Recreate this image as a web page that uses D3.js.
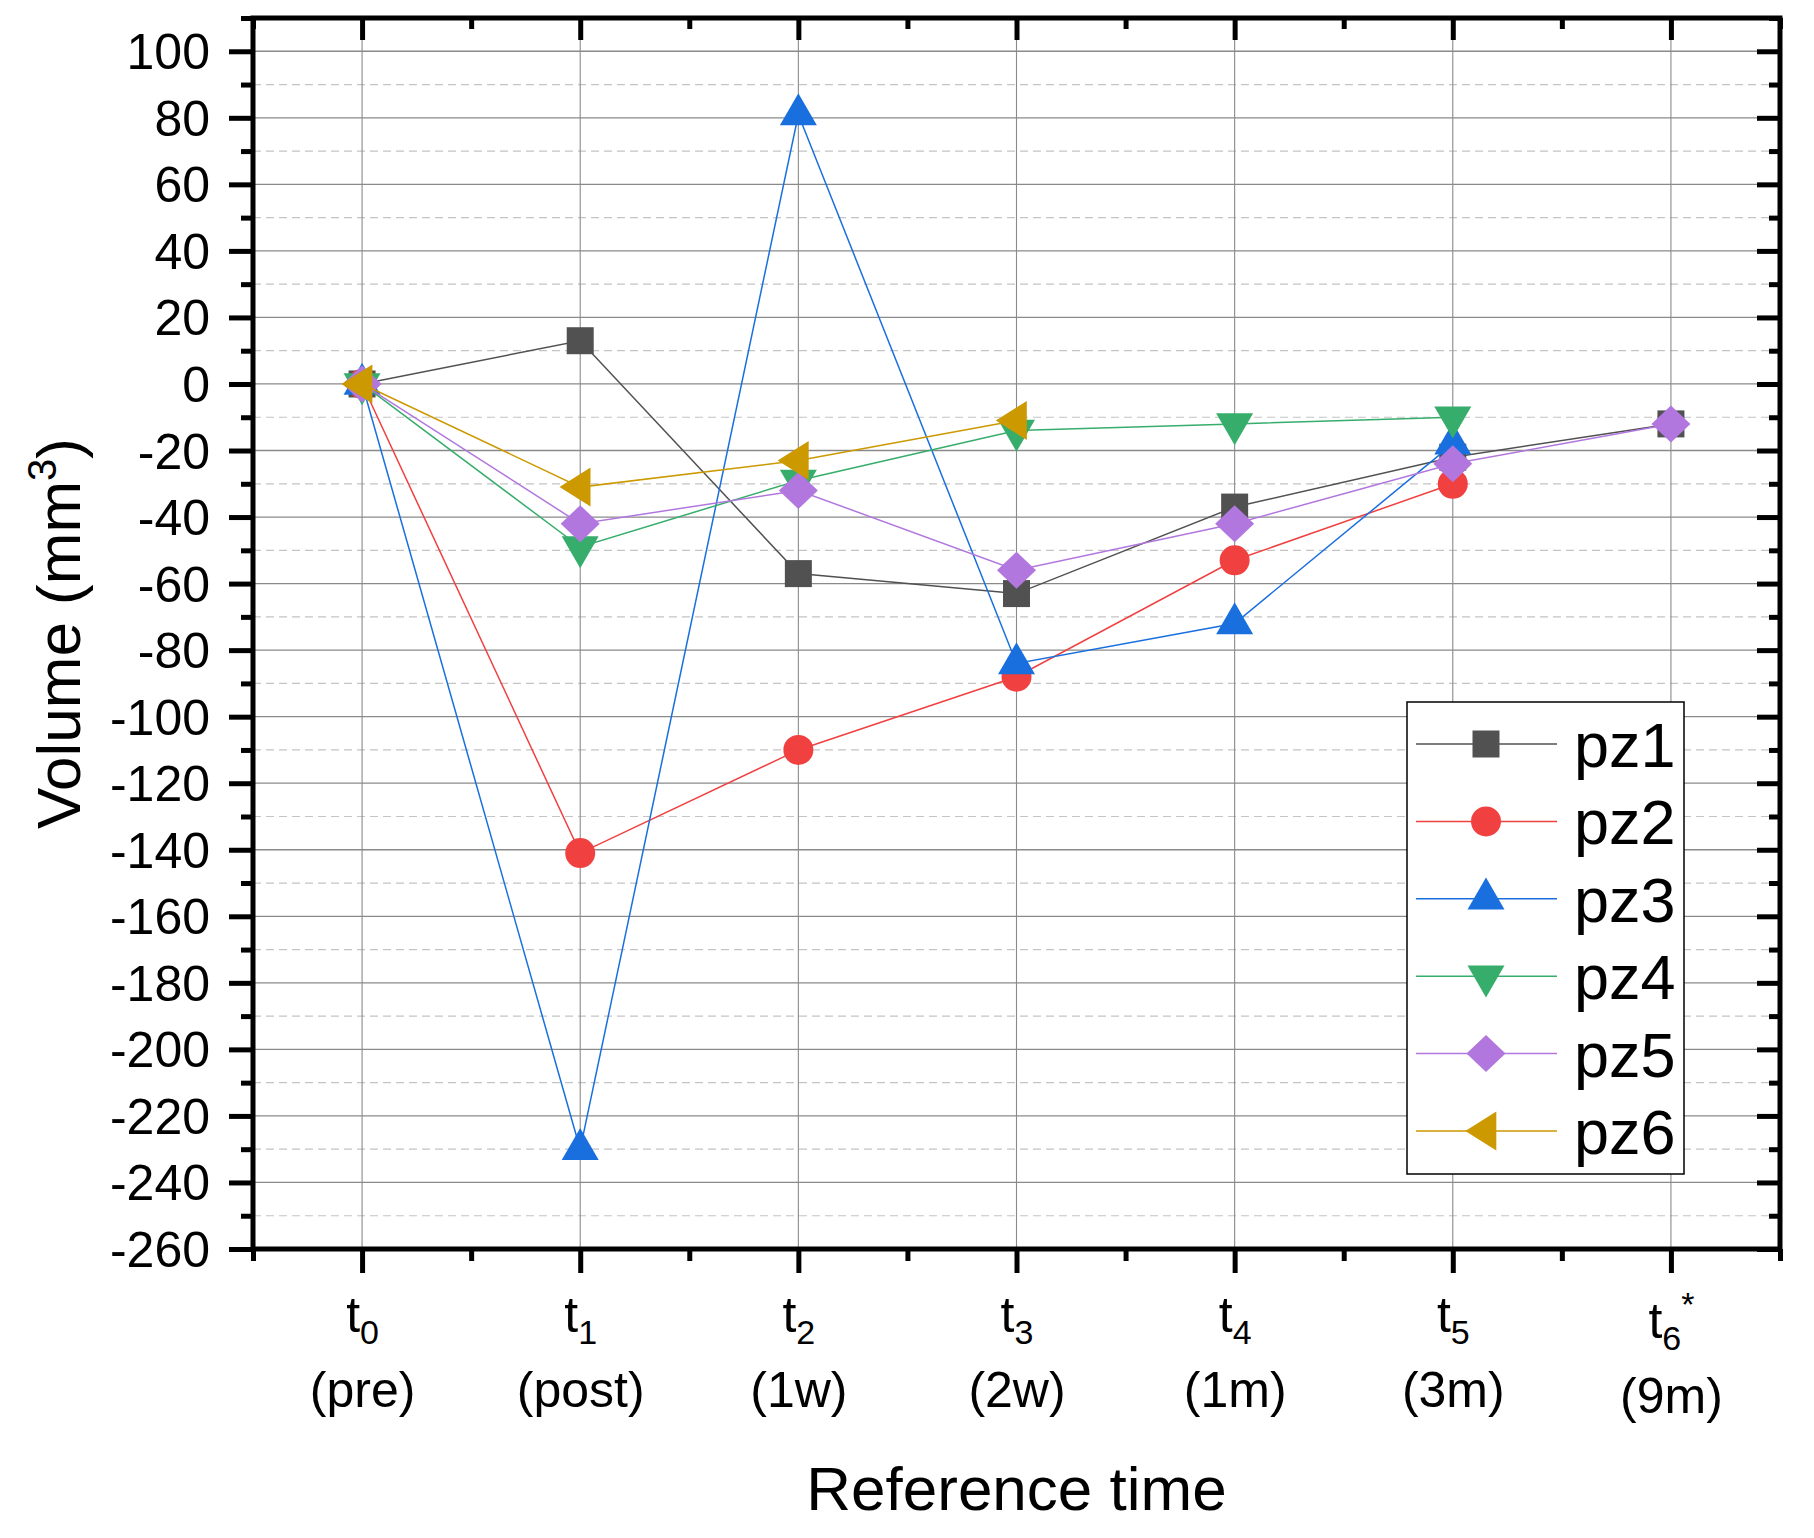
<!DOCTYPE html>
<html><head><meta charset="utf-8">
<script src="https://cdn.jsdelivr.net/npm/d3@7"></script>
<style>
body{margin:0;background:#fff}
text{font-family:"Liberation Sans",Arial,Helvetica,sans-serif;fill:#000}
</style>
</head><body><svg id="c" width="1814" height="1538"></svg>
<script>
// ---- data ----
const categories = [0, 1, 2, 3, 4, 5, 6];
const tickSub = ["0", "1", "2", "3", "4", "5", "6"];
const tickSup = ["", "", "", "", "", "", "*"];
const tickPeriod = ["(pre)", "(post)", "(1w)", "(2w)", "(1m)", "(3m)", "(9m)"];
const seriesNames = ["pz1", "pz2", "pz3", "pz4", "pz5", "pz6"];
const pz1 = [0, 13, -57, -63, -37, -22, -12];
const pz2 = [0, -141, -110, -88, -53, -30, null];
const pz3 = [0, -230, 81, -84, -72, -18, null];
const pz4 = [0, -49, -29, -14, -12, -10, null];
const pz5 = [0, -42, -32, -56, -42, -24, -12];
const pz6 = [0, -31, -23, -11, null, null, null];
const yMajorTicks = d3.range(-260, 101, 20);
const yMinorTicks = d3.range(-250, 111, 20);
const colors = ["#515151", "#F14040", "#1A6FDF", "#37AD6B", "#B177DE", "#CC9900"];
const shapes = ["square", "circle", "triUp", "triDown", "diamond", "triLeft"];
const seriesValues = [pz1, pz2, pz3, pz4, pz5, pz6];

// ---- layout ----
const L = 253, R = 1780, T = 18, B = 1249;
const svg = d3.select("#c");
svg.append("rect").attr("width", 1814).attr("height", 1538).attr("fill", "#fff");

const x = d3.scaleLinear().domain([-0.5, 6.5]).range([L, R]);
const y = d3.scaleLinear().domain([-260, 110]).range([B, T]);

function markerPath(s) {
  switch (s) {
    case "square": return "M-13.5,-13.5h27v27h-27Z";
    case "circle": return "M15,0A15,15 0 1,1 -15,0A15,15 0 1,1 15,0Z";
    case "triUp": return "M0,-21.3L18.5,10.7L-18.5,10.7Z";
    case "triDown": return "M0,21.3L18.5,-10.7L-18.5,-10.7Z";
    case "diamond": return "M0,-18.5L19.5,0L0,18.5L-19.5,0Z";
    case "triLeft": return "M-20.7,0L10.3,-19.5L10.3,19.5Z";
  }
}

// ---- grid ----
const grid = svg.append("g");
grid.selectAll(".ymin").data(yMinorTicks.filter(v => v < 110)).enter().append("line")
  .attr("x1", L).attr("x2", R).attr("y1", d => y(d)).attr("y2", d => y(d))
  .attr("stroke", "#c4c4c4").attr("stroke-width", 1.2).attr("stroke-dasharray", "8,5");
grid.selectAll(".ymaj").data(yMajorTicks.filter(v => v > -260)).enter().append("line")
  .attr("x1", L).attr("x2", R).attr("y1", d => y(d)).attr("y2", d => y(d))
  .attr("stroke", "#8a8a8a").attr("stroke-width", 1.3);
grid.selectAll(".xg").data(categories).enter().append("line")
  .attr("x1", d => x(d)).attr("x2", d => x(d)).attr("y1", T).attr("y2", B)
  .attr("stroke", "#8a8a8a").attr("stroke-width", 1.1);

// ---- series ----
const line = d3.line().defined(d => d.v !== null).x(d => x(d.c)).y(d => y(d.v));
seriesValues.forEach((vals, i) => {
  const pts = categories.map((c, k) => ({c: c, v: vals[k]}));
  const g = svg.append("g");
  g.append("path").datum(pts).attr("d", line).attr("fill", "none")
    .attr("stroke", colors[i]).attr("stroke-width", 1.5);
  g.selectAll("path.m").data(pts.filter(d => d.v !== null)).enter().append("path")
    .attr("class", "m")
    .attr("transform", d => `translate(${x(d.c)},${y(d.v)})`)
    .attr("d", markerPath(shapes[i])).attr("fill", colors[i]);
});

// ---- axes ----
function styleAxis(g) {
  g.select(".domain").remove();
  g.selectAll(".tick line").attr("stroke", "#000").attr("stroke-width", 5);
}
// left
const leftMaj = svg.append("g").attr("transform", `translate(${L},0)`)
  .call(d3.axisLeft(y).tickValues(yMajorTicks).tickSize(24).tickPadding(19).tickFormat(d => d));
styleAxis(leftMaj);
leftMaj.selectAll("text").attr("font-size", 50).attr("font-family", null).attr("dy", "0.35em");
leftMaj.attr("font-family", null).attr("font-size", null);
svg.append("g").attr("transform", `translate(${L},0)`)
  .call(d3.axisLeft(y).tickValues(yMinorTicks).tickSize(12).tickFormat("")).call(styleAxis);
// right (inward)
svg.append("g").attr("transform", `translate(${R},0)`)
  .call(d3.axisLeft(y).tickValues(yMajorTicks).tickSize(23).tickFormat("")).call(styleAxis);
svg.append("g").attr("transform", `translate(${R},0)`)
  .call(d3.axisLeft(y).tickValues(yMinorTicks).tickSize(11).tickFormat("")).call(styleAxis);
// top (inward)
const xMinor = d3.range(-0.5, 6.6, 1);
svg.append("g").attr("transform", `translate(0,${T})`)
  .call(d3.axisBottom(x).tickValues(categories).tickSize(22).tickFormat("")).call(styleAxis);
svg.append("g").attr("transform", `translate(0,${T})`)
  .call(d3.axisBottom(x).tickValues(xMinor).tickSize(11).tickFormat("")).call(styleAxis);
// bottom (outward)
const bot = svg.append("g").attr("transform", `translate(0,${B})`)
  .call(d3.axisBottom(x).tickValues(categories).tickSize(24).tickFormat(""));
styleAxis(bot);
svg.append("g").attr("transform", `translate(0,${B})`)
  .call(d3.axisBottom(x).tickValues(xMinor).tickSize(12).tickFormat("")).call(styleAxis);

// bottom tick labels: t with subscript, optional superscript, period on 2nd line
bot.selectAll(".tick").each(function(d, i) {
  const g = d3.select(this);
  const shift = tickSup[i] ? 6 : 0;
  const t = g.append("text").attr("text-anchor", "middle").attr("y", 1332 - B + shift)
    .attr("font-size", 50).attr("fill", "#000");
  t.append("tspan").text("t");
  t.append("tspan").attr("font-size", 34).attr("dy", 12).text(tickSub[i]);
  if (tickSup[i]) t.append("tspan").attr("font-size", 34).attr("dy", -34).text(tickSup[i]);
  g.append("text").attr("text-anchor", "middle").attr("y", 1407 - B + shift)
    .attr("font-size", 50).attr("fill", "#000").text(tickPeriod[i]);
});
bot.attr("font-family", null).attr("font-size", null);

// frame
svg.append("rect").attr("x", L).attr("y", T).attr("width", R - L).attr("height", B - T)
  .attr("fill", "none").attr("stroke", "#000").attr("stroke-width", 5);

// ---- titles ----
svg.append("text").attr("x", (L + R) / 2).attr("y", 1510).attr("text-anchor", "middle")
  .attr("font-size", 62).text("Reference time");
const yt = svg.append("text").attr("transform", `translate(80,${(T + B) / 2}) rotate(-90)`)
  .attr("text-anchor", "middle").attr("font-size", 62);
yt.append("tspan").text("Volume (mm");
yt.append("tspan").attr("font-size", 40).attr("dy", -24).text("3");
yt.append("tspan").attr("dy", 24).text(")");

// ---- legend ----
const lg = svg.append("g");
lg.append("rect").attr("x", 1407).attr("y", 702).attr("width", 277).attr("height", 472)
  .attr("fill", "#fff").attr("stroke", "#000").attr("stroke-width", 1.5);
seriesNames.forEach((n, i) => {
  const cy = 744 + i * 77.4;
  lg.append("line").attr("x1", 1416).attr("x2", 1557).attr("y1", cy).attr("y2", cy)
    .attr("stroke", colors[i]).attr("stroke-width", 1.5);
  lg.append("path").attr("transform", `translate(1486,${cy})`).attr("d", markerPath(shapes[i]))
    .attr("fill", colors[i]);
  lg.append("text").attr("x", 1574).attr("y", cy + 23).attr("font-size", 63).text(n);
});
</script></body></html>
